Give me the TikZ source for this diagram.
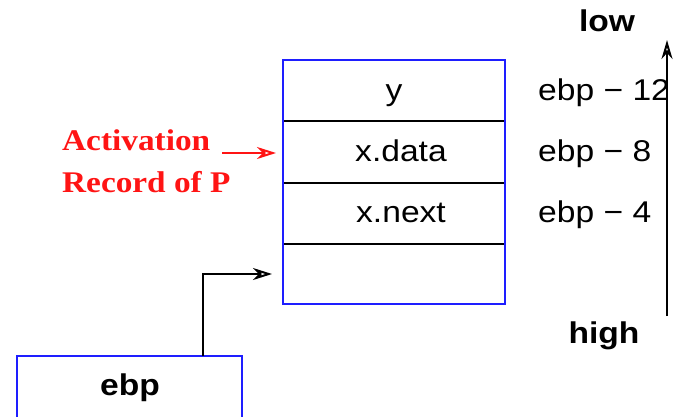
\documentclass[tikz,border=0pt]{standalone}
\usepackage{fontspec}
\setmainfont[FakeStretch=1.12]{Liberation Sans}
\newfontfamily\serifbold[FakeStretch=1.11]{Liberation Serif}
\usetikzlibrary{arrows.meta}
\definecolor{frameblue}{RGB}{30,30,255}
\definecolor{notered}{RGB}{255,20,20}
\begin{document}
\begin{tikzpicture}[x=1pt,y=-1pt,
  cell/.style={draw=black,line width=1.6pt},
  frame/.style={draw=frameblue,line width=1.8pt},
  lbl/.style={font=\fontsize{30}{32}\selectfont,inner sep=0pt,anchor=base},
  blbl/.style={font=\fontsize{30}{32}\selectfont\bfseries,inner sep=0pt,anchor=base},
  rlbl/.style={font=\fontsize{30}{34}\selectfont\serifbold\bfseries,text=notered,inner sep=0pt,anchor=base west},
  ptr/.style={line width=1.5pt,-{Stealth[open,length=19pt,width=12pt,inset=6pt,line width=2pt]}},
]
\useasboundingbox (0,0) rectangle (675,416);

% stack frame cells
\draw[cell] (283,121) -- (505,121);
\draw[cell] (283,183) -- (505,183);
\draw[cell] (283,244) -- (505,244);
\draw[frame] (283,60) rectangle (505,304);
\coordinate (slot) at (272,274);

\node[lbl] (y) at (394,100) {y};
\node[lbl] (xdata) at (401,161) {x.data};
\node[lbl] (xnext) at (401,222) {x.next};

% offsets from the frame pointer
\node[lbl,anchor=base west] (o12) at (538,100) {ebp − 12};
\node[lbl,anchor=base west] (o8) at (538,161) {ebp − 8};
\node[lbl,anchor=base west] (o4) at (538,222) {ebp − 4};

% address direction
\node[blbl] (low) at (607,31) {low};
\node[blbl] (high) at (604,343) {high};
\coordinate (dirlo) at (667,316);
\coordinate (dirhi) at (667,40);
\draw[line width=1.5pt,-{Stealth[open,length=19pt,width=11pt,inset=6pt,line width=2pt]}] (dirlo) -- (dirhi);

% activation record label
\node[rlbl] (act) at (62,150) {Activation};
\node[rlbl] (rec) at (62,192) {Record of P};
\coordinate (actfrom) at (222,153);
\coordinate (actto) at (276,153);
\draw[ptr,draw=notered] (actfrom) -- (actto);

% ebp register
\draw[frame] (17,430) -- (17,356) -- (242,356) -- (242,430);
\node[blbl] (ebp) at (130,395) {ebp};
\coordinate (ebpout) at (203,356);
\draw[ptr] (ebpout) |- (slot);
\end{tikzpicture}
\end{document}
